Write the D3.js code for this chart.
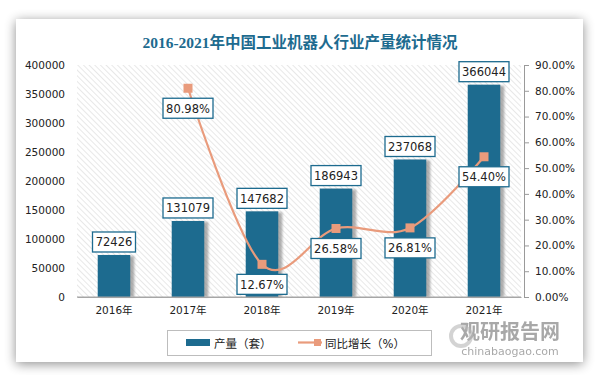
<!DOCTYPE html>
<html>
<head>
<meta charset="utf-8">
<script src="https://cdn.jsdelivr.net/npm/d3@7/dist/d3.min.js"></script>
<style>
  body { margin: 0; background: #fff; }
  #container { width: 599px; height: 375px; position: relative; }
</style>
</head>
<body>
<div id="container"></div>
<script>
// data
const years = ["2016年", "2017年", "2018年", "2019年", "2020年", "2021年"];
const output = [72426, 131079, 147682, 186943, 237068, 366044];
const growth = [null, 80.98, 12.67, 26.58, 26.81, 54.40];
const leftTicks = [0, 50000, 100000, 150000, 200000, 250000, 300000, 350000, 400000];
const rightTicks = [0, 10, 20, 30, 40, 50, 60, 70, 80, 90];

const width = 599, height = 375;
const margin = { top: 65, right: 78, bottom: 78, left: 77 };
const chartWidth = width - margin.left - margin.right;
const chartHeight = height - margin.top - margin.bottom;

const barColor = "#1d6b8f";
const lineColor = "#e99b7c";
const font = "'DejaVu Sans', 'Noto Sans CJK SC', sans-serif";

const svg = d3.select("#container").append("svg")
              .attr("width", width)
              .attr("height", height);

const defs = svg.append("defs");
const shadow = defs.append("filter").attr("id", "cardShadow")
                   .attr("x", "-10%").attr("y", "-10%").attr("width", "120%").attr("height", "125%");
shadow.append("feGaussianBlur").attr("in", "SourceAlpha").attr("stdDeviation", 6).attr("result", "b");
shadow.append("feOffset").attr("in", "b").attr("dx", 0).attr("dy", 2).attr("result", "o");
shadow.append("feComponentTransfer").attr("in", "o").attr("result", "o2")
      .append("feFuncA").attr("type", "linear").attr("slope", 0.45);
const merge = shadow.append("feMerge");
merge.append("feMergeNode").attr("in", "o2");
merge.append("feMergeNode").attr("in", "SourceGraphic");

const barShadow = defs.append("filter").attr("id", "barShadow");
barShadow.append("feGaussianBlur").attr("stdDeviation", 1.2);

const hatch = defs.append("pattern").attr("id", "hatch")
                  .attr("width", 4).attr("height", 4)
                  .attr("patternUnits", "userSpaceOnUse")
                  .attr("patternTransform", "rotate(-45)");
hatch.append("rect").attr("width", 4).attr("height", 4).attr("fill", "#fff");
hatch.append("line").attr("x1", 0).attr("y1", 0).attr("x2", 0).attr("y2", 4)
     .attr("stroke", "#d9d9d9").attr("stroke-width", 1.2);

// card
svg.append("rect").attr("x", 16).attr("y", 19).attr("width", 567).attr("height", 343)
   .attr("fill", "#fff").attr("filter", "url(#cardShadow)");

svg.append("text").attr("x", 300).attr("y", 48)
   .attr("text-anchor", "middle")
   .style("font-family", "'Liberation Serif', 'Noto Sans CJK SC', serif")
   .style("font-weight", "bold").style("font-size", "15.5px")
   .attr("fill", "#1d6b8f")
   .text("2016-2021年中国工业机器人行业产量统计情况");

const chart = svg.append("g").attr("transform", "translate(" + margin.left + "," + margin.top + ")");

chart.append("rect").attr("width", chartWidth).attr("height", chartHeight).attr("fill", "url(#hatch)");

const xScale = d3.scaleBand().domain(years).range([0, chartWidth]).paddingInner(0.56).paddingOuter(0.28);
const yScale = d3.scaleLinear().domain([0, 400000]).range([chartHeight, 0]);
const y2Scale = d3.scaleLinear().domain([0, 90]).range([chartHeight, 0]);

// axes
const yAxis = d3.axisLeft(yScale).tickValues(leftTicks).tickSize(0).tickPadding(12).tickFormat(d3.format("d"));
chart.append("g").call(yAxis)
     .call(g => g.select(".domain").remove())
     .selectAll("text").style("font-family", font).style("font-size", "10.5px").attr("fill", "#222");

const y2Axis = d3.axisRight(y2Scale).tickValues(rightTicks).tickSize(5).tickPadding(6)
                 .tickFormat(d => d.toFixed(2) + "%");
chart.append("g").attr("transform", "translate(" + (chartWidth + 3) + ",0)").call(y2Axis)
     .call(g => g.selectAll(".domain,line").attr("stroke", "#9a9a9a"))
     .selectAll("text").style("font-family", font).style("font-size", "10.5px").attr("fill", "#222");

const xAxis = d3.axisBottom(xScale).tickSize(0).tickPadding(10);
chart.append("g").attr("transform", "translate(0," + chartHeight + ")").call(xAxis)
     .call(g => g.select(".domain").attr("stroke", "#a6a6a6"))
     .selectAll("text").style("font-family", font).style("font-size", "10.5px").attr("fill", "#222");

// bars
const bw = xScale.bandwidth();
chart.selectAll(".barShadow").data(output).join("rect")
     .attr("x", (d, i) => xScale(years[i]) + 3)
     .attr("y", d => yScale(d) + 1)
     .attr("width", bw + 1)
     .attr("height", d => chartHeight - yScale(d) - 1)
     .attr("fill", "#8c8c8c").attr("opacity", 0.7)
     .attr("filter", "url(#barShadow)");

chart.selectAll(".bar").data(output).join("rect")
     .attr("x", (d, i) => xScale(years[i]))
     .attr("y", d => yScale(d))
     .attr("width", bw)
     .attr("height", d => chartHeight - yScale(d))
     .attr("fill", barColor);

chart.append("line").attr("x1", 0).attr("x2", chartWidth).attr("y1", chartHeight).attr("y2", chartHeight)
     .attr("stroke", "#a6a6a6");

// line
const pts = growth.map((g, i) => ({ g: g, x: xScale(years[i]) + bw / 2 })).filter(d => d.g !== null);
const line = d3.line().x(d => d.x).y(d => y2Scale(d.g)).curve(d3.curveCardinal.tension(0));
chart.append("path").datum(pts).attr("d", line)
     .attr("fill", "none").attr("stroke", lineColor).attr("stroke-width", 2.2);
chart.selectAll(".marker").data(pts).join("rect")
     .attr("x", d => d.x - 4.5).attr("y", d => y2Scale(d.g) - 4.5)
     .attr("width", 9).attr("height", 9).attr("fill", lineColor);

// labels
function labelBox(cx, cy, txt) {
  const w = txt.length * 7 + 8;
  const g = chart.append("g");
  g.append("rect").attr("x", cx - w / 2).attr("y", cy - 10).attr("width", w).attr("height", 20)
   .attr("fill", "#fff").attr("stroke", barColor).attr("stroke-width", 1.3);
  g.append("text").attr("x", cx).attr("y", cy + 4.5).attr("text-anchor", "middle")
   .style("font-family", font).style("font-size", "11.5px").attr("fill", "#222").text(txt);
}
output.forEach((d, i) => labelBox(xScale(years[i]) + bw / 2, yScale(d) - 13, String(d)));
pts.forEach(d => labelBox(d.x, y2Scale(d.g) + 20, d.g.toFixed(2) + "%"));

// legend
const legend = svg.append("g");
legend.append("rect").attr("x", 167.5).attr("y", 330.5).attr("width", 264).attr("height", 25)
      .attr("fill", "#fff").attr("stroke", "#bdbdbd");
legend.append("rect").attr("x", 186).attr("y", 339).attr("width", 24).attr("height", 7).attr("fill", barColor);
legend.append("text").attr("x", 214).attr("y", 347.5)
      .style("font-family", font).style("font-size", "11.5px").attr("fill", "#222").text("产量（套）");
legend.append("line").attr("x1", 298).attr("x2", 322).attr("y1", 342.5).attr("y2", 342.5)
      .attr("stroke", lineColor).attr("stroke-width", 2.2);
legend.append("rect").attr("x", 314).attr("y", 339).attr("width", 7).attr("height", 7).attr("fill", lineColor);
legend.append("text").attr("x", 325).attr("y", 347.5)
      .style("font-family", font).style("font-size", "11.5px").attr("fill", "#222").text("同比增长（%）");

// watermark
svg.append("text").attr("x", 510).attr("y", 339).attr("text-anchor", "middle")
   .style("font-family", "'Noto Sans CJK SC', sans-serif").style("font-weight", "bold").style("font-size", "20px")
   .attr("fill", "#9a9a9a").attr("opacity", 0.85).text("观研报告网");
svg.append("text").attr("x", 510).attr("y", 355).attr("text-anchor", "middle")
   .style("font-family", font).style("font-size", "11px")
   .attr("fill", "#9a9a9a").attr("opacity", 0.85).text("chinabaogao.com");
svg.append("circle").attr("cx", 461).attr("cy", 336).attr("r", 10)
   .attr("fill", "none").attr("stroke", "#b5b5b5").attr("stroke-width", 4).attr("opacity", 0.6);
</script>
</body>
</html>
